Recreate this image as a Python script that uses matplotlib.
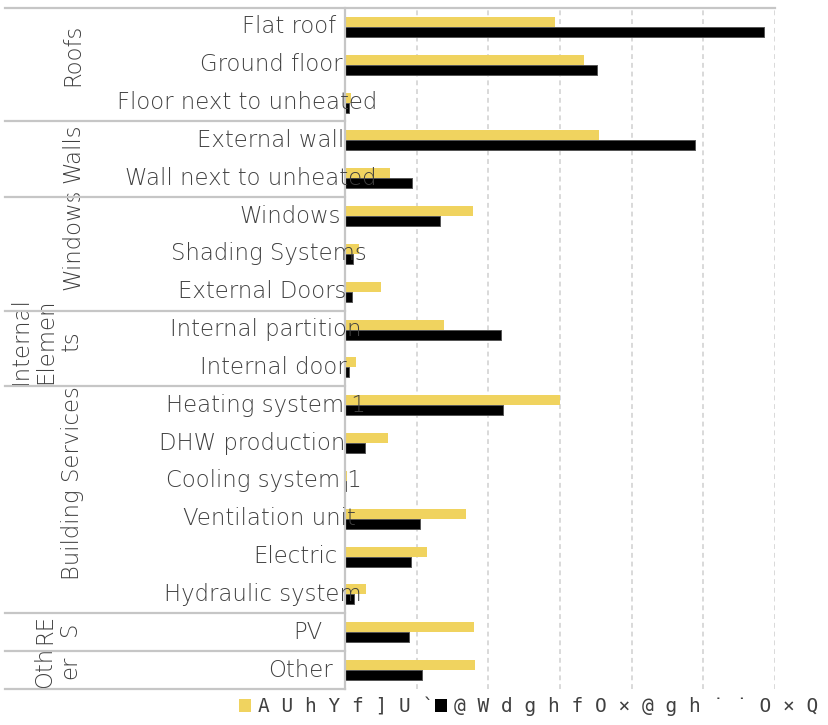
import matplotlib
matplotlib.use("Agg")
import matplotlib.pyplot as plt
from matplotlib import font_manager, transforms
from matplotlib.patches import Patch
from matplotlib.lines import Line2D

# ---- data -------------------------------------------------------------
categories = ["Flat roof", "Ground floor", "Floor next to unheated",
              "External wall", "Wall next to unheated",
              "Windows", "Shading Systems", "External Doors",
              "Internal partition", "Internal door",
              "Heating system 1", "DHW production", "Cooling system 1",
              "Ventilation unit", "Electric", "Hydraulic system",
              "PV", "Other"]
groups = ["Roofs", "Walls", "Windows", "Internal\nElemen\nts",
          "Building Services", "RE\nS", "Oth\ner"]
group_sizes = [3, 2, 3, 2, 6, 1, 1]
yellow_vals = [2.93, 3.33, 0.08, 3.55, 0.63, 1.78, 0.20, 0.50, 1.38, 0.15,
               3.00, 0.60, 0.03, 1.69, 1.15, 0.30, 1.80, 1.81]
black_vals = [5.84, 3.51, 0.05, 4.88, 0.93, 1.32, 0.11, 0.10, 2.18, 0.05,
              2.20, 0.28, 0.02, 1.05, 0.92, 0.13, 0.90, 1.08]
legend_labels = ["A U h Y f ] U `", "@ W d g h f O × @ g h ˙ ˙ O × Q"]

# ---- style ------------------------------------------------------------
W, H = 829, 725
YELLOW = "#F0D35F"
BLACK = "#000000"
TEXT = "#404040"
LINE = "#C6C6C6"
GRID = "#D9D9D9"

# right edge (px) of each category label and placement of group labels
label_right_px = [336, 343, 377, 344, 377, 341, 367, 346, 362, 347,
                  366, 345, 362, 356, 338, 362, 323, 333]
group_x_px = [73, 73, 73, 46, 73, 57, 57]
group_y_shift = [-0.25, -0.15, -0.38, -0.2, -0.45, -0.08, -0.08]


def _weight(f):
    w = f.weight
    if isinstance(w, str):
        w = font_manager.weight_dict.get(w, 400)
    return w


def light_font():
    for name in ["DejaVu Sans", "Open Sans", "Lato", "Roboto", "Noto Sans"]:
        cands = [f for f in font_manager.fontManager.ttflist
                 if f.name == name and f.style == "normal" and _weight(f) < 400]
        if cands:
            cands.sort(key=lambda f: abs(_weight(f) - 250))
            return font_manager.FontProperties(fname=cands[0].fname)
    return font_manager.FontProperties(family="DejaVu Sans")


label_fp = light_font()
label_fp.set_size(16.4)

fig = plt.figure(figsize=(W / 100, H / 100), dpi=100)
ax = fig.add_axes([345 / W, 1 - 689 / H, (775 - 345) / W, (689 - 8) / H])

n = len(categories)
rows = list(range(n))
bh = 0.265
ax.barh([r - bh / 2 for r in rows], yellow_vals, height=bh, color=YELLOW,
        zorder=2)
ax.barh([r + bh / 2 for r in rows], black_vals, height=bh, color=BLACK,
        edgecolor="#555555", linewidth=0.7, zorder=2)

ax.set_xlim(0, 6)
ax.set_ylim(n - 0.5, -0.5)
ax.set_xticks(range(1, 7))
ax.set_yticks([])
ax.tick_params(axis="x", length=0, labelbottom=False)
ax.xaxis.grid(True, color=GRID, linewidth=1.4, linestyle=(0, (2.5, 2)),
              zorder=0)
ax.set_axisbelow(True)
for side in ["top", "right", "bottom"]:
    ax.spines[side].set_visible(False)
ax.spines["left"].set_color(LINE)
ax.spines["left"].set_linewidth(1.6)
ax.spines["left"].set_zorder(3)

bt = transforms.blended_transform_factory(fig.transFigure, ax.transData)

# category labels
for r, (cat, xr) in enumerate(zip(categories, label_right_px)):
    ax.text(xr / W, r, cat, transform=bt, ha="right", va="center",
            fontproperties=label_fp, color=TEXT, clip_on=False, zorder=5)

# group separators and group labels
start = 0
bounds = [-0.5]
for g, size, gx, dy in zip(groups, group_sizes, group_x_px, group_y_shift):
    end = start + size
    bounds.append(end - 0.5)
    yc = (start + end - 1) / 2 + dy
    ax.text(gx / W, yc, g, transform=bt, rotation=90, ha="center",
            va="center", multialignment="center", linespacing=1.12,
            fontproperties=label_fp, color=TEXT, clip_on=False, zorder=5)
    start = end

for i, b in enumerate(bounds):
    x1 = 775 if i == 0 else 345
    fig.add_artist(Line2D([5 / W, x1 / W], [b, b], transform=bt,
                          color=LINE, linewidth=1.6, zorder=4))

# legend
legend_fp = font_manager.FontProperties(family="DejaVu Sans Mono", size=14.0)
handles = [Patch(facecolor=YELLOW, edgecolor="none"),
           Patch(facecolor=BLACK, edgecolor="none")]
leg = fig.legend(handles, legend_labels, loc="center left",
                 bbox_to_anchor=(239 / W, 1 - 707 / H), ncol=2,
                 frameon=False, prop=legend_fp, handlelength=0.62,
                 handleheight=0.62, handletextpad=0.38, columnspacing=0.0,
                 borderpad=0, borderaxespad=0)
for t in leg.get_texts():
    t.set_color(TEXT)

fig.savefig("out.png", dpi=100, facecolor="white")
